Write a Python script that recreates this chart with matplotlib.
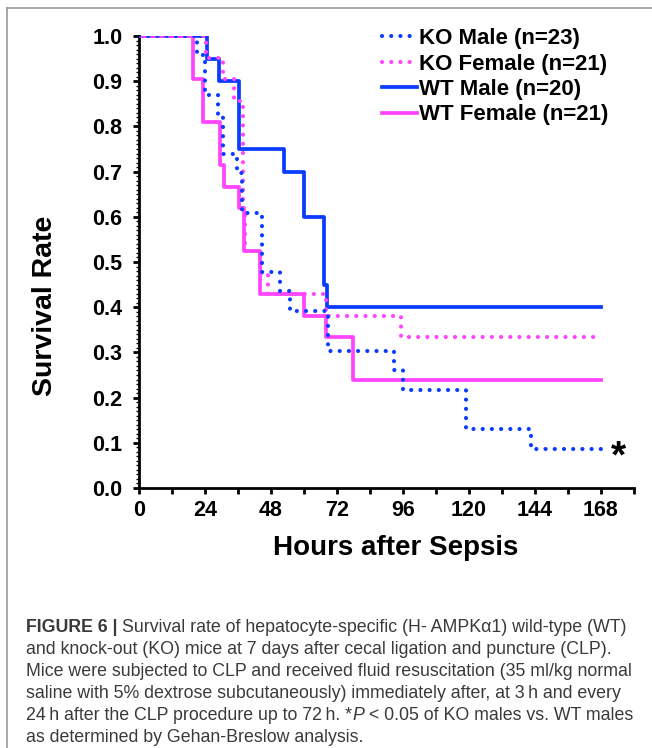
import matplotlib
matplotlib.use("Agg")
import matplotlib.pyplot as plt
from matplotlib.lines import Line2D
from matplotlib.ticker import FixedLocator, MultipleLocator

# survival curves (hours, survival fraction)
KO_MALE_T = [0, 21.2, 23.9, 28.6, 30.4, 35.7, 37.5, 44.9, 51.2, 54.8, 68.7, 92.9, 95.9, 118.9, 142.5, 168]
KO_MALE_S = [1.0, 0.957, 0.870, 0.826, 0.739, 0.696, 0.609, 0.478, 0.435, 0.391, 0.304, 0.261, 0.217, 0.130, 0.087, 0.087]

KO_FEMALE_T = [0, 24.5, 30.4, 34.6, 37.8, 38.5, 43.9, 46.9, 68.0, 95.3, 168]
KO_FEMALE_S = [1.0, 0.952, 0.905, 0.857, 0.619, 0.524, 0.476, 0.429, 0.381, 0.333, 0.333]

WT_MALE_T = [0, 24.6, 29.1, 36.4, 52.6, 60.0, 67.1, 68.3, 168]
WT_MALE_S = [1.0, 0.95, 0.90, 0.75, 0.70, 0.60, 0.45, 0.40, 0.40]

WT_FEMALE_T = [0, 19.7, 23.1, 29.4, 31.0, 36.4, 38.3, 43.9, 60.0, 67.9, 77.8, 168]
WT_FEMALE_S = [1.0, 0.905, 0.810, 0.714, 0.667, 0.619, 0.524, 0.429, 0.381, 0.333, 0.238, 0.238]

LABELS = ["KO Male (n=23)", "KO Female (n=21)", "WT Male (n=20)", "WT Female (n=21)"]
X_TICKS = [0, 24, 48, 72, 96, 120, 144, 168]
Y_TICKS = [0.0, 0.1, 0.2, 0.3, 0.4, 0.5, 0.6, 0.7, 0.8, 0.9, 1.0]

CAPTION = [
    [("FIGURE 6 | ", "bold", "normal"),
     ("Survival rate of hepatocyte-specific (H- AMPK\u03b11) wild-type (WT)", "normal", "normal")],
    [("and knock-out (KO) mice at 7 days after cecal ligation and puncture (CLP).", "normal", "normal")],
    [("Mice were subjected to CLP and received fluid resuscitation (35 ml/kg normal", "normal", "normal")],
    [("saline with 5% dextrose subcutaneously) immediately after, at 3\u2009h and every", "normal", "normal")],
    [("24\u2009h after the CLP procedure up to 72\u2009h. *", "normal", "normal"), ("P", "normal", "italic"),
     (" < 0.05 of KO males vs. WT males", "normal", "normal")],
    [("as determined by Gehan-Breslow analysis.", "normal", "normal")],
]

BLUE = "#0a3cff"
PINK = "#ff44ff"

plt.rcParams["font.family"] = ["Liberation Sans", "DejaVu Sans"]

W, H = 652, 748
fig = plt.figure(figsize=(W / 100, H / 100), dpi=100)
ax = fig.add_axes([139 / W, 1 - 488 / H, (634 - 139) / W, (488 - 36) / H])

dot = (0, (0.01, 2.2))
ax.step(WT_MALE_T, WT_MALE_S, where="post", color=BLUE, lw=2.7, label=LABELS[2], zorder=3)
ax.step(WT_FEMALE_T, WT_FEMALE_S, where="post", color=PINK, lw=2.7, label=LABELS[3], zorder=3)
ax.step(KO_FEMALE_T, KO_FEMALE_S, where="post", color=PINK, lw=3.0, ls=dot,
        dash_capstyle="round", label=LABELS[1], zorder=4)
ax.step(KO_MALE_T, KO_MALE_S, where="post", color=BLUE, lw=3.0, ls=dot,
        dash_capstyle="round", label=LABELS[0], zorder=5)

ax.set_xlim(0, 180)
ax.set_ylim(0, 1.0)
ax.xaxis.set_major_locator(FixedLocator(X_TICKS))
ax.xaxis.set_minor_locator(FixedLocator([12, 36, 60, 84, 108, 132, 156, 180]))
ax.set_xticklabels([str(v) for v in X_TICKS])
ax.yaxis.set_major_locator(FixedLocator(Y_TICKS))
ax.yaxis.set_minor_locator(MultipleLocator(0.01))
ax.set_yticklabels(["%.1f" % v for v in Y_TICKS])

for s in ["top", "right"]:
    ax.spines[s].set_visible(False)
for s in ["left", "bottom"]:
    ax.spines[s].set_linewidth(2.0)
ax.tick_params(axis="both", which="major", direction="out", width=2, labelsize=15.5, colors="black")
ax.tick_params(axis="x", which="major", length=4, pad=5)
ax.tick_params(axis="x", which="minor", length=4, width=2)
ax.tick_params(axis="y", which="major", length=4, pad=8)
ax.tick_params(axis="y", which="minor", length=2, width=1)
for t in ax.get_xticklabels() + ax.get_yticklabels():
    t.set_fontweight("bold")

ax.text(174.3, 0.068, "*", fontsize=28, fontweight="bold", ha="center", va="center")

handles, labels = ax.get_legend_handles_labels()
order = [3, 2, 0, 1]
leg = ax.legend([handles[i] for i in order], [labels[i] for i in order],
                loc="upper left", bbox_to_anchor=(371 / W, 1 - 17 / H),
                bbox_transform=fig.transFigure, frameon=False, borderpad=0,
                handlelength=1.55, handletextpad=0.13, labelspacing=0.2,
                prop={"weight": "bold", "size": 16})

fig.text(45 / W, 1 - 306 / H, "Survival Rate", rotation=90, fontsize=20.5,
         fontweight="bold", ha="center", va="center")
fig.text(396 / W, 1 - 548 / H, "Hours after Sepsis", fontsize=20,
         fontweight="bold", ha="center", va="center")

# caption, line by line
fig.canvas.draw()
r = fig.canvas.get_renderer()
y0 = 627
for i, line in enumerate(CAPTION):
    x = 26
    for txt, wt, st in line:
        t = fig.text(x / W, 1 - (y0 + i * 22) / H, txt, fontsize=12.8, color="#3a3a3a",
                     fontweight=wt, fontstyle=st, ha="left", va="center")
        x += t.get_window_extent(renderer=r).width

# thin grey frame (top and left edges only)
fig.add_artist(Line2D([7 / W, 7 / W], [0, 1 - 8 / H], color="#999999", lw=1.2))
fig.add_artist(Line2D([7 / W, 1], [1 - 8 / H, 1 - 8 / H], color="#999999", lw=1.2))

fig.savefig("out.png", dpi=100)
